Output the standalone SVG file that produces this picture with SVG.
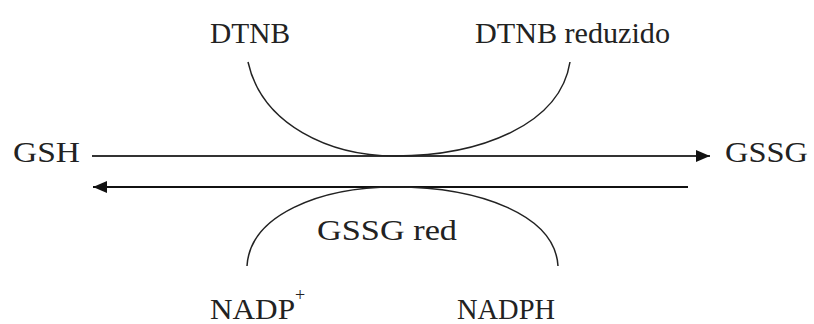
<svg xmlns="http://www.w3.org/2000/svg" width="814" height="324" viewBox="0 0 814 324">
<defs>
<style>
text{font-family:"Liberation Serif","Times New Roman",serif;font-size:30px;fill:#222}
.c{fill:none;stroke:#222;stroke-width:1.5}
</style>
<marker id="ah" viewBox="0 0 14 12" refX="14" refY="6" markerWidth="14" markerHeight="12" markerUnits="userSpaceOnUse" orient="auto">
<path d="M0,0 L14,6 L0,12 Z" fill="#111"/>
</marker>
</defs>
<rect width="814" height="324" fill="#fff"/>
<g id="connectors">
<line x1="92" y1="156" x2="710" y2="156" stroke="#333" stroke-width="1.8" marker-end="url(#ah)"/>
<line x1="688" y1="187" x2="93" y2="187" stroke="#111" stroke-width="2" marker-end="url(#ah)"/>
<path class="c" d="M248 62 C262 125 330 156 395 156 C480 156 560 125 570 62"/>
<path class="c" d="M247 266 C250 215 320 187 395 187 C480 187 555 215 558 266"/>
</g>
<g id="gsh"><text x="13" y="162" textLength="67" lengthAdjust="spacingAndGlyphs">GSH</text></g>
<g id="gssg"><text x="725" y="162" textLength="83" lengthAdjust="spacingAndGlyphs">GSSG</text></g>
<g id="dtnb"><text x="210" y="43" textLength="80" lengthAdjust="spacingAndGlyphs">DTNB</text></g>
<g id="dtnb-red"><text x="475" y="43" textLength="195" lengthAdjust="spacingAndGlyphs">DTNB reduzido</text></g>
<g id="gssg-red"><text x="317" y="240" textLength="140" lengthAdjust="spacingAndGlyphs">GSSG red</text></g>
<g id="nadp"><text x="210" y="319"><tspan textLength="85" lengthAdjust="spacingAndGlyphs">NADP</tspan><tspan x="295" y="301" font-size="18">+</tspan></text></g>
<g id="nadph"><text x="457" y="319" textLength="98" lengthAdjust="spacingAndGlyphs">NADPH</text></g>
</svg>
